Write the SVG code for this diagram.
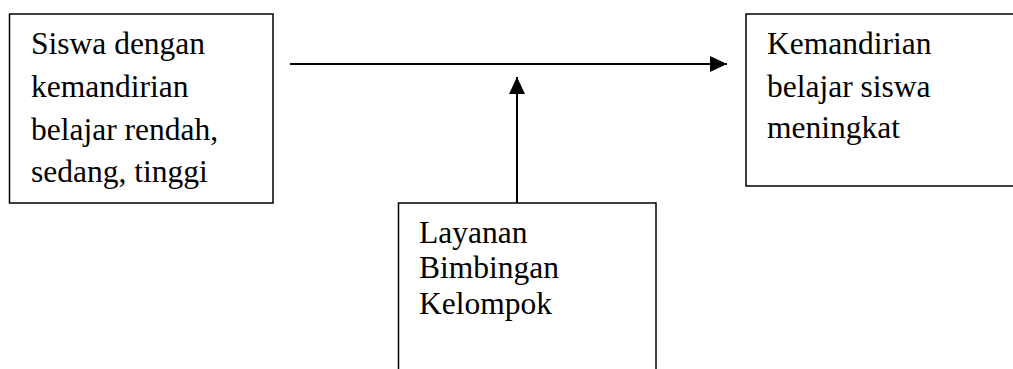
<svg xmlns="http://www.w3.org/2000/svg" width="1013" height="369" viewBox="0 0 1013 369">
<style>
.box{fill:#fff;stroke:#000;stroke-width:1.5}
.t{font-family:"Liberation Serif","Times New Roman",serif;font-size:31.5px;fill:#000}
.c{stroke:#000;stroke-width:2;fill:none}
</style>
<defs>
<marker id="ah" markerUnits="userSpaceOnUse" markerWidth="17" markerHeight="17" viewBox="0 0 17 17" refX="17" refY="8.5" orient="auto">
<path d="M0,0.5 L17,8.5 L0,16.5 Z" fill="#000"/>
</marker>
</defs>
<rect width="1013" height="369" fill="#fff"/>
<g id="node-siswa">
<rect class="box" x="9.5" y="14" width="263.5" height="189"/>
<text class="t" x="31" y="54">Siswa dengan</text>
<text class="t" x="31" y="97">kemandirian</text>
<text class="t" x="31" y="140">belajar rendah,</text>
<text class="t" x="31" y="182">sedang, tinggi</text>
</g>
<g id="node-kemandirian">
<rect class="box" x="746" y="14" width="280" height="172"/>
<text class="t" x="767" y="54">Kemandirian</text>
<text class="t" x="767" y="97">belajar siswa</text>
<text class="t" x="767" y="138">meningkat</text>
</g>
<g id="node-layanan">
<rect class="box" x="398.5" y="203" width="257.5" height="180"/>
<text class="t" x="419" y="243">Layanan</text>
<text class="t" x="419" y="278">Bimbingan</text>
<text class="t" x="419" y="314">Kelompok</text>
</g>
<g id="connectors">
<line class="c" x1="290" y1="64" x2="727" y2="64" marker-end="url(#ah)"/>
<line class="c" x1="517" y1="203" x2="517" y2="77" marker-end="url(#ah)"/>
</g>
</svg>
